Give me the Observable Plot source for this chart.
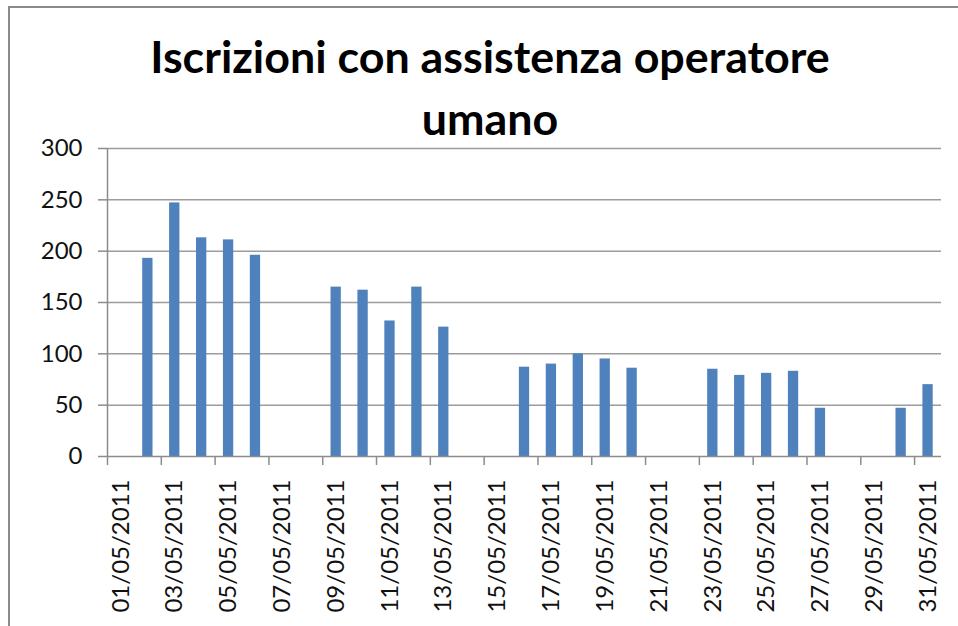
<!DOCTYPE html>
<html>
<head>
<meta charset="utf-8">
<script src="https://cdn.jsdelivr.net/npm/d3@7"></script>
<script src="https://cdn.jsdelivr.net/npm/@observablehq/plot@0.6"></script>
<style>
  html, body { margin: 0; padding: 0; background: #fff; }
  #frame { position: absolute; left: 8px; top: 6px; right: 0; bottom: 0;
           border-left: 2.5px solid #8a8a8a; border-top: 2.5px solid #8a8a8a; pointer-events: none; }
  #title { position: relative; box-sizing: border-box; width: 958px; height: 140px;
           padding-left: 22px; padding-top: 25px; text-align: center;
           font-family: Lato, "Open Sans", sans-serif; font-weight: bold; font-size: 44.8px;
           line-height: 62px; color: #000; }
  #chart { position: relative; }
</style>
</head>
<body>
<div id="frame"></div>
<div id="title">Iscrizioni con assistenza operatore<br>umano</div>
<div id="chart"></div>
<script>
// Categories (x axis tick labels, one per day)
const days = [
  "01/05/2011","02/05/2011","03/05/2011","04/05/2011","05/05/2011","06/05/2011","07/05/2011",
  "08/05/2011","09/05/2011","10/05/2011","11/05/2011","12/05/2011","13/05/2011","14/05/2011",
  "15/05/2011","16/05/2011","17/05/2011","18/05/2011","19/05/2011","20/05/2011","21/05/2011",
  "22/05/2011","23/05/2011","24/05/2011","25/05/2011","26/05/2011","27/05/2011","28/05/2011",
  "29/05/2011","30/05/2011","31/05/2011"
];
// Series values (null = no bar)
const counts = [
  null, 193, 247, 213, 211, 196, null,
  null, 165, 162, 132, 165, 126, null,
  null, 87, 90, 100, 95, 86, null,
  null, 85, 79, 81, 83, 47, null,
  null, 47, 70
];
// Y axis tick values
const yTicks = [0, 50, 100, 150, 200, 250, 300];

const rows = days.map((date, i) => ({date, idx: i, value: counts[i]})).filter(d => d.value != null);
const labelRows = days.map((date, i) => ({date, idx: i})).filter(d => d.idx % 2 === 0);
const boundaries = d3.range(0, days.length, 2);

const chart = Plot.plot({
  width: 958,
  height: 486,
  marginTop: 8,
  marginBottom: 170,
  marginLeft: 107,
  marginRight: 17,
  style: {fontFamily: "Lato, 'Open Sans', sans-serif", fontSize: "24px", color: "#111", background: "transparent", overflow: "visible"},
  x: {type: "linear", domain: [0, days.length], axis: null},
  y: {domain: [0, 300], axis: null},
  marks: [
    Plot.ruleY(yTicks.filter(v => v > 0), {stroke: "#9c9c9c", strokeWidth: 1.5}),
    Plot.rectY(rows, {x1: "idx", x2: d => d.idx + 1, y: "value", fill: "#4f81bd", insetLeft: 8.3, insetRight: 8.3}),
    Plot.ruleY([0], {stroke: "#8c8c8c", strokeWidth: 1.5}),
    Plot.ruleX([0], {stroke: "#8c8c8c", strokeWidth: 1.5}),
    Plot.ruleX(boundaries, {x: d => d, y1: 0, y2: 0, insetBottom: -9, stroke: "#8c8c8c", strokeWidth: 1.5}),
    Plot.axisY({ticks: yTicks, tickSize: 9, tickPadding: 16, stroke: "#8c8c8c", strokeWidth: 1.5, fill: "#111", fontSize: 24, label: null}),
    Plot.text(labelRows, {x: d => d.idx + 0.5, y: 0, text: "date", rotate: -90, textAnchor: "end", lineAnchor: "middle", dy: 23, fontSize: 24, fill: "#111"})
  ]
});
document.getElementById("chart").appendChild(chart);
</script>
</body>
</html>
